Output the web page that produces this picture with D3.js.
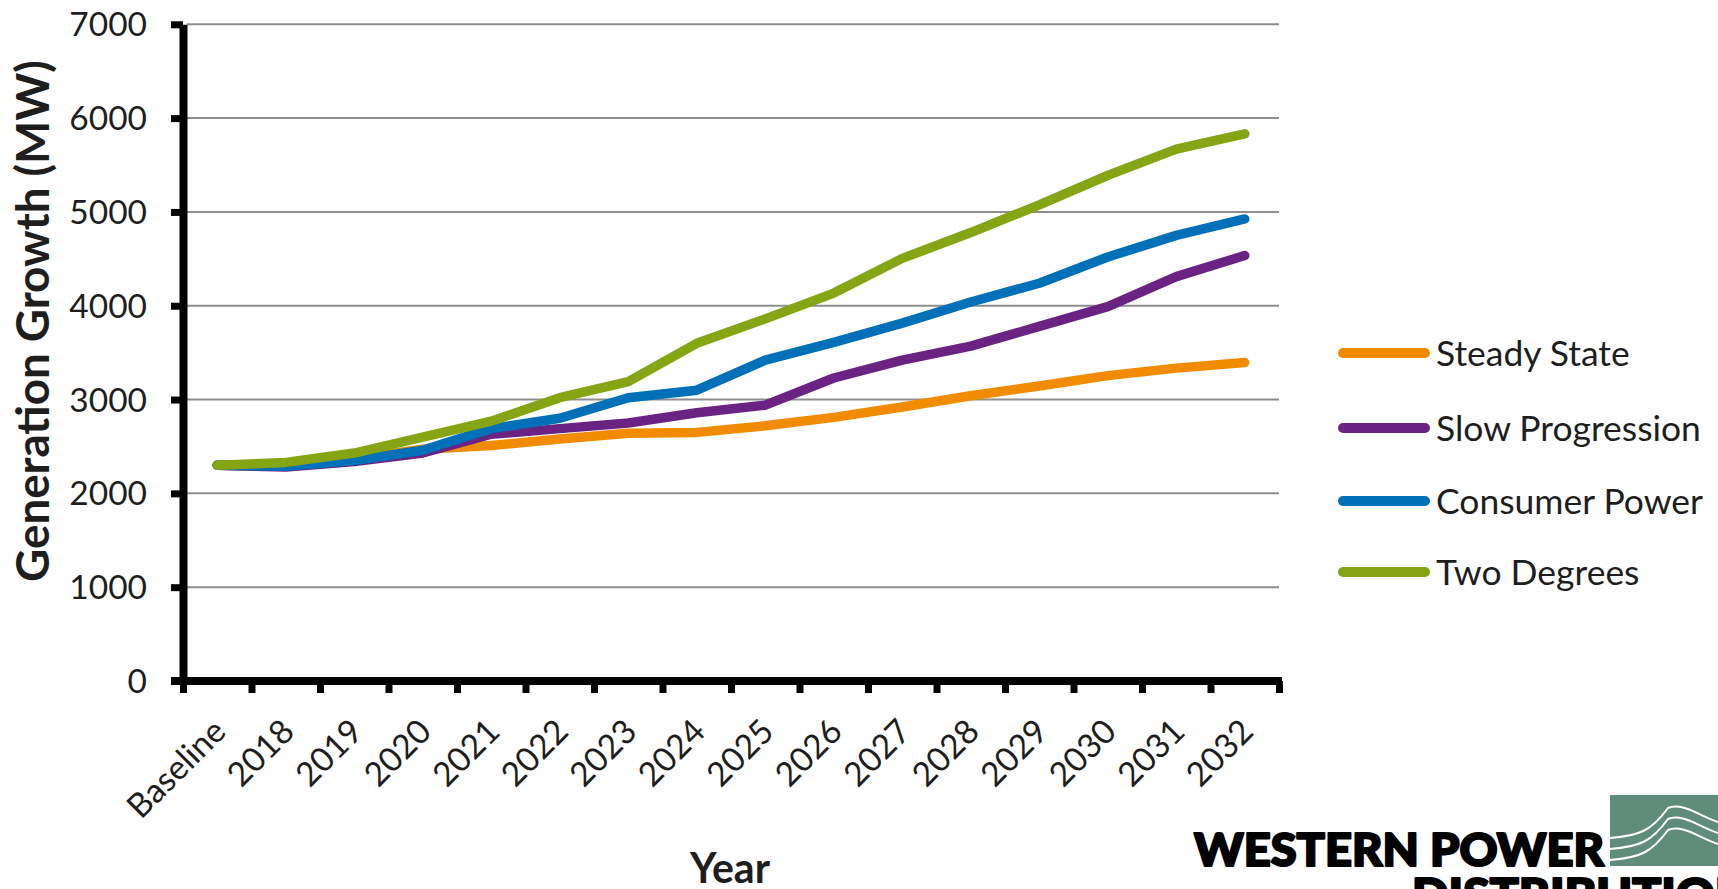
<!DOCTYPE html>
<html>
<head>
<meta charset="utf-8">
<script src="https://cdn.jsdelivr.net/npm/d3@7"></script>
<style>
  html, body { margin: 0; padding: 0; background: #fff; overflow: hidden; }
  svg { display: block; }
</style>
</head>
<body>
<svg id="chart" width="1718" height="889"></svg>
<script>
// ---- data ----
const categories = ["Baseline", "2018", "2019", "2020", "2021", "2022", "2023", "2024",
  "2025", "2026", "2027", "2028", "2029", "2030", "2031", "2032"];
const seriesNames = ["Steady State", "Slow Progression", "Consumer Power", "Two Degrees"];
const steadyState     = [2300, 2290, 2370, 2470, 2510, 2580, 2640, 2650, 2720, 2810, 2920, 3040, 3145, 3255, 3335, 3395];
const slowProgression = [2300, 2280, 2340, 2430, 2630, 2690, 2750, 2860, 2940, 3230, 3420, 3570, 3780, 3990, 4310, 4535];
const consumerPower   = [2300, 2290, 2350, 2460, 2690, 2800, 3020, 3100, 3420, 3610, 3815, 4040, 4240, 4520, 4750, 4925];
const twoDegrees      = [2300, 2330, 2430, 2600, 2770, 3020, 3190, 3600, 3860, 4135, 4505, 4780, 5075, 5390, 5670, 5832];
const yTicks = [0, 1000, 2000, 3000, 4000, 5000, 6000, 7000];
const yTitle = "Generation Growth (MW)";
const xTitle = "Year";

const seriesValues = [steadyState, slowProgression, consumerPower, twoDegrees];
const colors = ["#F18C00", "#6A2382", "#0070B9", "#86A514"];

// ---- layout ----
const plotL = 183, plotR = 1279, plotT = 24.3, plotB = 681;
const FONT = "Lato, 'Open Sans', 'DejaVu Sans', sans-serif";
const TEXT = "#1e1e1e";

const svg = d3.select("#chart");

const x = d3.scaleBand().domain(categories).range([plotL, plotR]).paddingInner(0).paddingOuter(0);
const xEdge = d3.scaleLinear().domain([0, categories.length]).range([plotL, plotR]);
const y = d3.scaleLinear().domain([0, 7000]).range([plotB, plotT]);

function fit(sel, width) {
  const w = sel.node().getComputedTextLength();
  const fs = parseFloat(sel.attr("font-size"));
  sel.attr("font-size", fs * width / w);
}

// gridlines
svg.append("g")
  .selectAll("line")
  .data(yTicks.filter(d => d > 0))
  .join("line")
  .attr("x1", plotL + 4).attr("x2", plotR)
  .attr("y1", d => y(d)).attr("y2", d => y(d))
  .attr("stroke", "#8e8e8e").attr("stroke-width", 2);

// y axis
const yAxis = svg.append("g")
  .attr("transform", `translate(${plotL},0)`)
  .call(d3.axisLeft(y).tickValues(yTicks).tickSize(12).tickSizeOuter(0).tickFormat(""));
yAxis.select(".domain").attr("stroke", "#000").attr("stroke-width", 8);
yAxis.selectAll(".tick line").attr("stroke", "#000").attr("stroke-width", 7);

// y tick labels
svg.append("g")
  .selectAll("text")
  .data(yTicks)
  .join("text")
  .attr("x", 147)
  .attr("y", d => y(d))
  .attr("dy", "0.36em")
  .attr("text-anchor", "end")
  .attr("font-family", FONT)
  .attr("font-size", 33.5)
  .attr("fill", TEXT)
  .text(d => d);

// x axis (ticks at category boundaries)
const xAxis = svg.append("g")
  .attr("transform", `translate(0,${plotB})`)
  .call(d3.axisBottom(xEdge).tickValues(d3.range(categories.length + 1)).tickSize(12).tickSizeOuter(0).tickFormat(""));
xAxis.select(".domain").attr("stroke", "#000").attr("stroke-width", 8)
  .attr("d", `M${plotL - 12},0H${plotR + 3}`);
xAxis.selectAll(".tick line").attr("stroke", "#000").attr("stroke-width", 7);

// x labels
svg.append("g")
  .selectAll("text")
  .data(categories)
  .join("text")
  .attr("transform", d => `translate(${x(d) + x.bandwidth() / 2 + 2},${plotB + 44}) rotate(-45)`)
  .attr("dy", "0.36em")
  .attr("text-anchor", "end")
  .attr("font-family", FONT)
  .attr("font-size", 33.5)
  .attr("fill", TEXT)
  .text(d => d);

// axis titles
const yt = svg.append("text")
  .attr("transform", `translate(33,${(60 + 582) / 2}) rotate(-90)`)
  .attr("dy", "0.36em")
  .attr("text-anchor", "middle")
  .attr("font-family", FONT)
  .attr("font-weight", "bold")
  .attr("font-size", 36)
  .attr("fill", TEXT)
  .text(yTitle);
fit(yt, 522);

const xt = svg.append("text")
  .attr("x", 730).attr("y", 883)
  .attr("text-anchor", "middle")
  .attr("font-family", FONT)
  .attr("font-weight", "bold")
  .attr("font-size", 36)
  .attr("fill", TEXT)
  .text(xTitle);
fit(xt, 80);

// lines
const line = d3.line()
  .x((d, i) => x(categories[i]) + x.bandwidth() / 2)
  .y(d => y(d));

svg.append("g")
  .selectAll("path")
  .data(seriesValues)
  .join("path")
  .attr("d", d => line(d))
  .attr("fill", "none")
  .attr("stroke", (d, i) => colors[i])
  .attr("stroke-width", 9.5)
  .attr("stroke-linejoin", "round")
  .attr("stroke-linecap", "round");

// legend
const legendY = [353, 428, 501, 572];
const lg = svg.append("g");
seriesNames.forEach((name, i) => {
  lg.append("line")
    .attr("x1", 1343).attr("x2", 1425)
    .attr("y1", legendY[i]).attr("y2", legendY[i])
    .attr("stroke", colors[i]).attr("stroke-width", 10).attr("stroke-linecap", "round");
});
const legendTexts = lg.selectAll("text.leg")
  .data(seriesNames)
  .join("text")
  .attr("class", "leg")
  .attr("x", 1436)
  .attr("y", (d, i) => legendY[i])
  .attr("dy", "0.36em")
  .attr("font-family", FONT)
  .attr("font-size", 32)
  .attr("fill", TEXT)
  .text(d => d);
{
  const n = legendTexts.filter(d => d === "Slow Progression").node();
  const w = n.getComputedTextLength();
  legendTexts.attr("font-size", 32 * 265 / w);
}

// logo
const logo = svg.append("g");
logo.append("rect")
  .attr("x", 1610).attr("y", 795).attr("width", 108).attr("height", 71)
  .attr("fill", "#5F8C7B");
[0, 1, 2].forEach(k => {
  const oy = 838 + k * 11;
  logo.append("path")
    .attr("d", `M1610,${oy} C1640,${oy - 2} 1652,${oy - 8} 1668,${oy - 30} C1682,${oy - 36} 1700,${oy - 22} 1718,${oy - 16}`)
    .attr("fill", "none").attr("stroke", "#fff").attr("stroke-width", 2);
});
logo.append("text")
  .attr("x", 1194).attr("y", 866)
  .attr("font-family", "Lato, 'DejaVu Sans', sans-serif")
  .attr("font-weight", 900)
  .attr("font-size", 46)
  .attr("textLength", 410)
  .attr("lengthAdjust", "spacingAndGlyphs")
  .attr("fill", "#000")
  .attr("stroke", "#000").attr("stroke-width", 2.2).attr("stroke-linejoin", "round")
  .text("WESTERN POWER");
logo.append("text")
  .attr("x", 1412).attr("y", 911)
  .attr("font-family", "Lato, 'DejaVu Sans', sans-serif")
  .attr("font-weight", 900)
  .attr("font-size", 46)
  .attr("textLength", 340)
  .attr("lengthAdjust", "spacingAndGlyphs")
  .attr("fill", "#000")
  .attr("stroke", "#000").attr("stroke-width", 2.2).attr("stroke-linejoin", "round")
  .text("DISTRIBUTION");
</script>
</body>
</html>
